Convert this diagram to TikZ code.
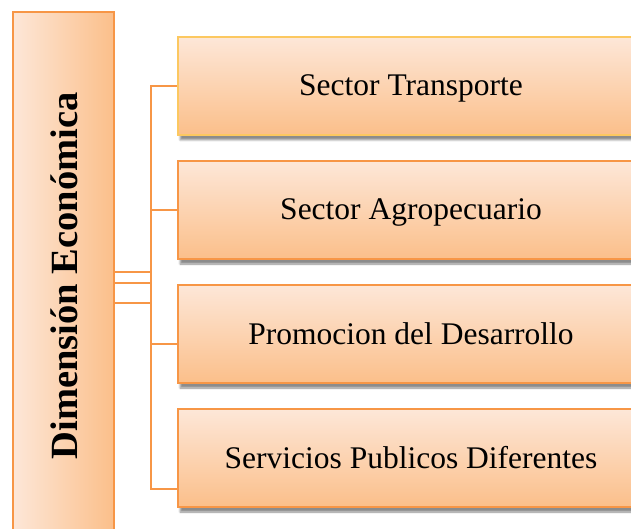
\documentclass[tikz,border=0pt]{standalone}
\usepackage{fontspec}
\setmainfont{Liberation Serif}
\usetikzlibrary{shadows.blur}
\definecolor{orA}{HTML}{F79646}
\definecolor{orLight}{HTML}{FDE7D8}
\definecolor{orDark}{HTML}{FBBF8A}
\definecolor{orYel}{HTML}{FCC860}
\tikzset{
  rbox/.style={draw=orA, line width=1.6pt, top color=orLight, bottom color=orDark,
    minimum width=466pt, minimum height=98pt, inner sep=0pt,
    text height=27pt, text depth=7pt,
    font=\fontsize{31.5}{34}\selectfont,
    blur shadow={shadow xshift=2pt, shadow yshift=-5pt, shadow blur steps=6, shadow opacity=45}},
  lbox/.style={draw=orA, line width=1.6pt, left color=orLight, right color=orDark,
    minimum width=101pt, minimum height=528pt, inner sep=0pt},
  conn/.style={draw=orA, line width=1.4pt}
}
\begin{document}
\begin{tikzpicture}[x=1pt,y=-1pt]
\useasboundingbox (0,0) rectangle (631,529);
\clip (0,0) rectangle (631,529);
\node[lbox] (L) at (63.5,276) {};
\node[rotate=90, font=\fontsize{38.5}{40}\selectfont\bfseries] (Lt) at (64,276) {Dimensión Económica};
\node[rbox, draw=orYel] (b1) at (411,86) {Sector Transporte};
\node[rbox] (b2) at (411,210) {Sector Agropecuario};
\node[rbox] (b3) at (411,334) {Promocion del Desarrollo};
\node[rbox] (b4) at (411,458) {Servicios Publicos Diferentes};
\coordinate (j1) at (151,272);
\coordinate (j2) at (151,283);
\coordinate (j3) at (151,283);
\coordinate (j4) at (151,303);
\coordinate (e3) at (151,344);
\coordinate (e4) at (151,489);
\draw[conn] (L.east |- j1) -- (j1) |- (b1.west);
\draw[conn] (L.east |- j2) -- (j2) |- (b2.west);
\draw[conn] (L.east |- j3) -- (j3) -- (e3) -- (b3.west |- e3);
\draw[conn] (L.east |- j4) -- (j4) -- (e4) -- (b4.west |- e4);
\end{tikzpicture}
\end{document}
